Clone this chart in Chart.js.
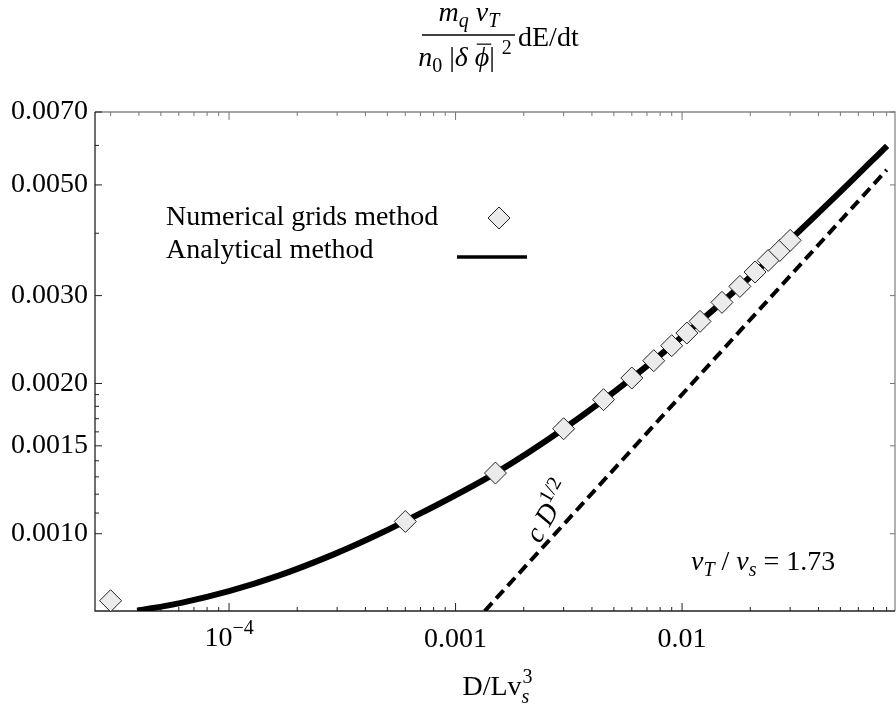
<!DOCTYPE html>
<html>
<head>
  <meta charset="UTF-8">
  <title>dE/dt vs D</title>
  <script src="https://cdn.jsdelivr.net/npm/chart.js"></script>
  <style>
    body {
      margin: 0;
      background: #fff;
    }
    #wrap {
      width: 896px;
      height: 704px;
    }
  </style>
</head>
<body>
  <div id="wrap"><canvas id="grafik"></canvas></div>

  <script>
    // numerical grids method (diamonds)
    const gridD = [3.0e-5, 6.0e-4, 1.5e-3, 3.0e-3, 4.5e-3, 6.0e-3, 7.5e-3, 9.0e-3,
                   1.05e-2, 1.2e-2, 1.5e-2, 1.8e-2, 2.1e-2, 2.4e-2, 2.7e-2, 3.0e-2];
    const gridE = [0.000734, 0.001058, 0.001323, 0.001623, 0.001856, 0.002051, 0.002222, 0.002381,
                   0.002524, 0.002664, 0.002908, 0.003130, 0.003345, 0.003529, 0.003695, 0.003871];

    // analytical method (solid curve)
    const anaD = [3.93e-5, 6.08e-5, 1.0e-4, 1.68e-4, 2.88e-4, 4.19e-4, 6.0e-4, 1.5e-3, 3.0e-3,
                  6.0e-3, 1.2e-2, 2.4e-2, 4.99e-2, 8.04e-2];
    const anaE = [0.000701, 0.000726, 0.000767, 0.000826, 0.000908, 0.000979, 0.001060, 0.001323, 0.001623,
                  0.002051, 0.002664, 0.003529, 0.00484, 0.00599];

    // c D^(1/2) (dashed)
    const fitD = [1.345e-3, 8.01e-2];
    const fitE = [0.00070, 0.00536];

    // axes
    const xMin = 2.56e-5, xMax = 0.0871;
    const yMin = 0.0007, yMax = 0.0070;
    const xMajor = [1e-4, 1e-3, 1e-2];
    const xLabels = ['', '0.001', '0.01'];   // 10^-4 is drawn by hand (superscript)
    const xMinor = [3e-5, 4e-5, 5e-5, 6e-5, 7e-5, 8e-5, 9e-5,
                    2e-4, 3e-4, 4e-4, 5e-4, 6e-4, 7e-4, 8e-4, 9e-4,
                    2e-3, 3e-3, 4e-3, 5e-3, 6e-3, 7e-3, 8e-3, 9e-3,
                    2e-2, 3e-2, 4e-2, 5e-2, 6e-2, 7e-2, 8e-2];
    const yMajor = [0.0010, 0.0015, 0.0020, 0.0030, 0.0050, 0.0070];
    const yLabels = ['0.0010', '0.0015', '0.0020', '0.0030', '0.0050', '0.0070'];
    const yMinor = [0.0011, 0.0012, 0.0013, 0.0014, 0.0016, 0.0017, 0.0018, 0.0019, 0.0040, 0.0060];

    const FONT = "'Liberation Serif', 'Times New Roman', Times, serif";
    const FS = 28;

    const pts = (xs, ys) => xs.map((x, i) => ({ x: x, y: ys[i] }));

    // draw text with italic / sub / sup pieces
    function partFont(p) {
      const sz = (p.sub || p.sup) ? Math.round(FS * 0.7) : FS;
      return (p.i ? 'italic ' : '') + sz + 'px ' + FONT;
    }
    function richWidth(ctx, parts) {
      let w = 0;
      parts.forEach(p => { ctx.font = partFont(p); w += ctx.measureText(p.t).width; });
      return w;
    }
    function drawRich(ctx, parts, x, y, align) {
      const w = richWidth(ctx, parts);
      let cx = align === 'center' ? x - w / 2 : (align === 'right' ? x - w : x);
      ctx.textAlign = 'left';
      ctx.textBaseline = 'alphabetic';
      parts.forEach(p => {
        ctx.font = partFont(p);
        const dy = p.sub ? FS * 0.22 : (p.sup ? -FS * 0.42 : 0);
        ctx.fillText(p.t, cx, y + dy);
        const pw = ctx.measureText(p.t).width;
        if (p.bar) {
          ctx.beginPath();
          ctx.moveTo(cx + 2, y - FS * 0.78);
          ctx.lineTo(cx + pw + 2, y - FS * 0.78);
          ctx.lineWidth = 1.2;
          ctx.stroke();
        }
        cx += pw;
      });
      return w;
    }

    const decor = {
      id: 'decor',
      beforeDatasetsDraw(chart) {
        const ctx = chart.ctx;
        const a = chart.chartArea;
        const sx = chart.scales.x, sy = chart.scales.y;
        ctx.save();
        ctx.lineWidth = 1.3;
        // frame
        ctx.strokeStyle = '#888';
        ctx.beginPath();
        ctx.moveTo(a.left, a.top); ctx.lineTo(a.right, a.top); ctx.lineTo(a.right, a.bottom);
        ctx.stroke();
        ctx.strokeStyle = '#222';
        ctx.beginPath();
        ctx.moveTo(a.left, a.top); ctx.lineTo(a.left, a.bottom); ctx.lineTo(a.right, a.bottom);
        ctx.stroke();
        // ticks, pointing inward
        ctx.lineWidth = 1;
        const tick = (x1, y1, x2, y2, c) => {
          ctx.strokeStyle = c;
          ctx.beginPath(); ctx.moveTo(x1, y1); ctx.lineTo(x2, y2); ctx.stroke();
        };
        xMajor.forEach(v => {
          const px = sx.getPixelForValue(v);
          tick(px, a.bottom, px, a.bottom - 8, '#222');
          tick(px, a.top, px, a.top + 8, '#777');
        });
        xMinor.forEach(v => {
          const px = sx.getPixelForValue(v);
          tick(px, a.bottom, px, a.bottom - 4, '#222');
          tick(px, a.top, px, a.top + 4, '#777');
        });
        yMajor.forEach(v => {
          const py = sy.getPixelForValue(v);
          tick(a.left, py, a.left + 7, py, '#222');
          tick(a.right, py, a.right - 5, py, '#777');
        });
        yMinor.forEach(v => {
          const py = sy.getPixelForValue(v);
          tick(a.left, py, a.left + 4, py, '#222');
        });
        ctx.restore();
      },
      afterDraw(chart) {
        const ctx = chart.ctx;
        const sx = chart.scales.x;
        ctx.save();
        ctx.fillStyle = '#000';
        ctx.strokeStyle = '#000';

        // 10^-4 tick label
        drawRich(ctx, [{ t: '10' }, { t: '\u22124', sup: 1 }], sx.getPixelForValue(1e-4), 646, 'center');

        // title: m_q v_T / (n_0 |delta phi|^2) dE/dt
        drawRich(ctx, [{ t: 'm', i: 1 }, { t: 'q', i: 1, sub: 1 }, { t: ' v', i: 1 }, { t: 'T', i: 1, sub: 1 }], 469, 21, 'center');
        ctx.lineWidth = 1.5;
        ctx.beginPath(); ctx.moveTo(422, 35); ctx.lineTo(515, 35); ctx.stroke();
        drawRich(ctx, [{ t: 'n', i: 1 }, { t: '0', sub: 1 }, { t: ' |' }, { t: '\u03B4', i: 1 }, { t: ' ' },
                       { t: '\u03D5', i: 1, bar: 1 }, { t: '|' }, { t: ' ' }, { t: '2', sup: 1 }], 465, 66, 'center');
        drawRich(ctx, [{ t: 'dE/dt' }], 518, 46, 'left');

        // legend
        drawRich(ctx, [{ t: 'Numerical grids method' }], 166, 225, 'left');
        drawRich(ctx, [{ t: 'Analytical method' }], 166, 258, 'left');
        ctx.beginPath();
        ctx.moveTo(499, 207); ctx.lineTo(510, 218); ctx.lineTo(499, 229); ctx.lineTo(488, 218); ctx.closePath();
        ctx.fillStyle = '#ebebeb'; ctx.fill();
        ctx.lineWidth = 1; ctx.strokeStyle = '#222'; ctx.stroke();
        ctx.fillStyle = '#000';
        ctx.strokeStyle = '#000';
        ctx.lineWidth = 3.5;
        ctx.beginPath(); ctx.moveTo(457, 257); ctx.lineTo(527, 257); ctx.stroke();

        // c D^(1/2) along the dashed line
        ctx.save();
        ctx.translate(556, 516);
        ctx.rotate(-60 * Math.PI / 180);
        drawRich(ctx, [{ t: 'c D', i: 1 }, { t: '1/2', sup: 1 }], 0, 0, 'center');
        ctx.restore();

        // v_T / v_s = 1.73
        drawRich(ctx, [{ t: 'v', i: 1 }, { t: 'T', i: 1, sub: 1 }, { t: ' / ' }, { t: 'v', i: 1 }, { t: 's', i: 1, sub: 1 }, { t: ' = 1.73' }], 691, 570, 'left');

        // x axis title D/Lv_s^3
        ctx.font = FS + 'px ' + FONT;
        const w0 = ctx.measureText('D/Lv').width;
        const cx = 497 - (w0 + 10) / 2;
        drawRich(ctx, [{ t: 'D/Lv' }], cx, 695, 'left');
        drawRich(ctx, [{ t: 's', i: 1, sub: 1 }], cx + w0, 697, 'left');
        drawRich(ctx, [{ t: '3', sup: 1 }], cx + w0 + 1, 695, 'left');
        ctx.restore();
      }
    };

    Chart.defaults.font.family = FONT;
    Chart.defaults.font.size = FS;
    Chart.defaults.color = '#000';

    const ctx = document.getElementById('grafik').getContext('2d');
    const chart = new Chart(ctx, {
      type: 'scatter',
      data: {
        datasets: [
          {
            label: 'Numerical grids method',
            data: pts(gridD, gridE),
            pointStyle: 'rectRot',
            pointRadius: 11,
            pointBackgroundColor: '#ebebeb',
            pointBorderColor: '#222',
            pointBorderWidth: 1,
            showLine: false,
            clip: false
          },
          {
            label: 'Analytical method',
            data: pts(anaD, anaE),
            showLine: true,
            borderColor: '#000',
            borderWidth: 6,
            pointRadius: 0,
            cubicInterpolationMode: 'monotone'
          },
          {
            label: 'c D^1/2',
            data: pts(fitD, fitE),
            showLine: true,
            borderColor: '#000',
            borderWidth: 4,
            borderDash: [11, 6],
            pointRadius: 0
          }
        ]
      },
      options: {
        responsive: true,
        maintainAspectRatio: false,
        animation: false,
        layout: {
          autoPadding: false,
          padding: { top: 112, right: 1, left: 0, bottom: 0 }
        },
        scales: {
          x: {
            type: 'logarithmic',
            min: xMin,
            max: xMax,
            grid: { display: false, drawTicks: false },
            border: { display: false },
            afterFit: s => { s.height = 93; },
            afterBuildTicks: s => { s.ticks = xMajor.map(v => ({ value: v })); },
            ticks: {
              padding: 12,
              maxRotation: 0,
              autoSkip: false,
              callback: v => xLabels[xMajor.indexOf(v)]
            }
          },
          y: {
            type: 'logarithmic',
            min: yMin,
            max: yMax,
            grid: { display: false, drawTicks: false },
            border: { display: false },
            afterFit: s => { s.width = 95; },
            afterBuildTicks: s => { s.ticks = yMajor.map(v => ({ value: v })); },
            ticks: {
              padding: 7,
              autoSkip: false,
              callback: v => yLabels[yMajor.indexOf(v)]
            }
          }
        },
        plugins: {
          legend: { display: false },
          tooltip: { enabled: false },
          title: { display: false }
        }
      },
      plugins: [decor]
    });
  </script>
</body>
</html>
